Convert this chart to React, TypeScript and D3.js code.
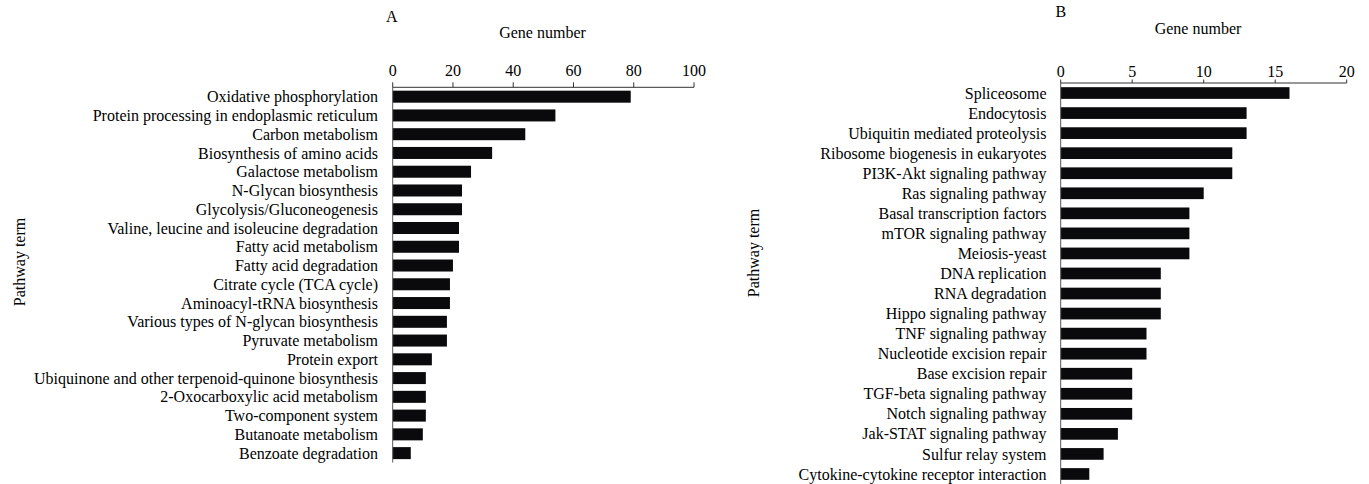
import React from "react";
import * as d3 from "d3";

const pathwaysA = [
  "Oxidative phosphorylation",
  "Protein processing in endoplasmic reticulum",
  "Carbon metabolism",
  "Biosynthesis of amino acids",
  "Galactose metabolism",
  "N-Glycan biosynthesis",
  "Glycolysis/Gluconeogenesis",
  "Valine, leucine and isoleucine degradation",
  "Fatty acid metabolism",
  "Fatty acid degradation",
  "Citrate cycle (TCA cycle)",
  "Aminoacyl-tRNA biosynthesis",
  "Various types of N-glycan biosynthesis",
  "Pyruvate metabolism",
  "Protein export",
  "Ubiquinone and other terpenoid-quinone biosynthesis",
  "2-Oxocarboxylic acid metabolism",
  "Two-component system",
  "Butanoate metabolism",
  "Benzoate degradation",
];
const countsA = [79, 54, 44, 33, 26, 23, 23, 22, 22, 20, 19, 19, 18, 18, 13, 11, 11, 11, 10, 6];
const ticksA = [0, 20, 40, 60, 80, 100];

const pathwaysB = [
  "Spliceosome",
  "Endocytosis",
  "Ubiquitin mediated proteolysis",
  "Ribosome biogenesis in eukaryotes",
  "PI3K-Akt signaling pathway",
  "Ras signaling pathway",
  "Basal transcription factors",
  "mTOR signaling pathway",
  "Meiosis-yeast",
  "DNA replication",
  "RNA degradation",
  "Hippo signaling pathway",
  "TNF signaling pathway",
  "Nucleotide excision repair",
  "Base excision repair",
  "TGF-beta signaling pathway",
  "Notch signaling pathway",
  "Jak-STAT signaling pathway",
  "Sulfur relay system",
  "Cytokine-cytokine receptor interaction",
];
const countsB = [16, 13, 13, 12, 12, 10, 9, 9, 9, 7, 7, 7, 6, 6, 5, 5, 5, 4, 3, 2];
const ticksB = [0, 5, 10, 15, 20];

const FONT = "'Liberation Serif', 'Times New Roman', serif";
const FS = 16;

type PanelProps = {
  letter: string;
  labels: string[];
  values: number[];
  ticks: number[];
  xDomain: [number, number];
  xRange: [number, number];
  yRange: [number, number];
  padding: number;
  labelX: number;
  tickLen: number;
  tickLabelY: number;
  titleX: number;
  titleY: number;
  letterX: number;
  letterY: number;
  yTitleX: number;
  yTitleY: number;
};

function Panel(p: PanelProps) {
  const x = d3.scaleLinear().domain(p.xDomain).range(p.xRange);
  const y = d3
    .scaleBand<string>()
    .domain(p.labels)
    .range(p.yRange)
    .paddingInner(p.padding)
    .paddingOuter(p.padding / 2);
  const axisY = p.yRange[0];
  return (
    <g fontFamily={FONT} fill="#000">
      <text x={p.letterX} y={p.letterY} fontSize={FS}>{p.letter}</text>
      <text x={p.titleX} y={p.titleY} fontSize={FS} textAnchor="middle">Gene number</text>
      <text
        transform={`translate(${p.yTitleX},${p.yTitleY}) rotate(-90)`}
        fontSize={FS}
        textAnchor="middle"
      >
        Pathway term
      </text>
      {p.labels.map((l, i) => (
        <rect
          key={"b" + i}
          x={x(0)}
          y={y(l)!}
          width={x(p.values[i]) - x(0)}
          height={y.bandwidth()}
          fill="#0a0a0c"
        />
      ))}
      {p.labels.map((l, i) => (
        <text
          key={"l" + i}
          x={p.labelX}
          y={y(l)! + y.bandwidth() / 2}
          dy="0.35em"
          fontSize={FS}
          textAnchor="end"
        >
          {l}
        </text>
      ))}
      <line x1={p.xRange[0]} x2={p.xRange[1]} y1={axisY} y2={axisY} stroke="#333" strokeWidth={1} />
      <line x1={p.xRange[0]} x2={p.xRange[0]} y1={axisY} y2={p.yRange[1]} stroke="#555" strokeWidth={1} />
      {p.ticks.map((t) => (
        <g key={"t" + t}>
          <line x1={x(t)} x2={x(t)} y1={axisY} y2={axisY - p.tickLen} stroke="#333" strokeWidth={1} />
          <text x={x(t)} y={p.tickLabelY} fontSize={FS} textAnchor="middle">{t}</text>
        </g>
      ))}
    </g>
  );
}

export default function App() {
  return (
    <svg
      width={1369}
      height={484}
      style={{ position: "absolute", left: 0, top: 0, background: "#fff" }}
    >
      <Panel
        letter="A"
        labels={pathwaysA}
        values={countsA}
        ticks={ticksA}
        xDomain={[0, 100]}
        xRange={[392.7, 694]}
        yRange={[87.3, 462.5]}
        padding={0.36}
        labelX={378}
        tickLen={5}
        tickLabelY={76}
        titleX={542.5}
        titleY={38}
        letterX={386}
        letterY={21.5}
        yTitleX={25}
        yTitleY={262}
      />
      <Panel
        letter="B"
        labels={pathwaysB}
        values={countsB}
        ticks={ticksB}
        xDomain={[0, 20]}
        xRange={[1060.7, 1346.7]}
        yRange={[83, 484]}
        padding={0.417}
        labelX={1046.5}
        tickLen={3.5}
        tickLabelY={77}
        titleX={1198}
        titleY={33.5}
        letterX={1055.5}
        letterY={17}
        yTitleX={759}
        yTitleY={253}
      />
    </svg>
  );
}
